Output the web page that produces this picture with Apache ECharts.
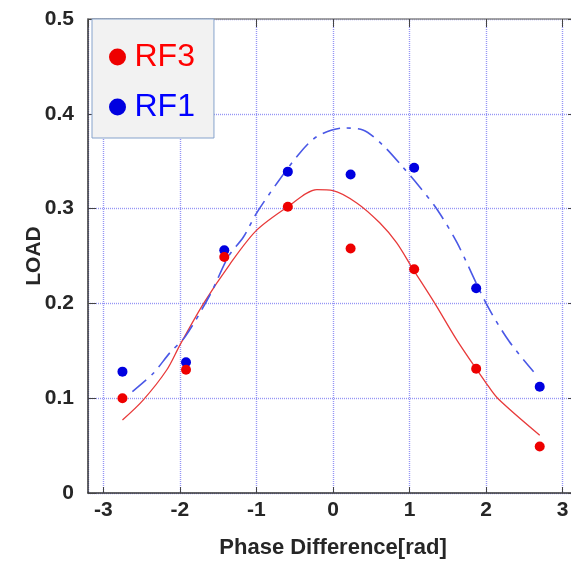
<!DOCTYPE html>
<html>
<head>
<meta charset="utf-8">
<script src="https://cdn.jsdelivr.net/npm/echarts@6/dist/echarts.min.js"></script>
<style>
  html, body { margin: 0; padding: 0; background: #fff; }
  #chart { width: 571px; height: 564px; }
</style>
</head>
<body>
<div id="chart"></div>
<script>
// ── Data ─────────────────────────────────────────────────────

// measured points
const phase   = [-2.75, -1.92, -1.42, -0.59, 0.23, 1.06, 1.87, 2.70];
const loadRF3 = [0.100, 0.130, 0.249, 0.302, 0.258, 0.236, 0.131, 0.049];
const loadRF1 = [0.128, 0.138, 0.256, 0.339, 0.336, 0.343, 0.216, 0.112];

// fitted curves (sampled from the drawn lines)
const fitRF3Phase = [-2.75, -2.48, -2.17, -2.0, -1.69, -1.35, -1.0, -0.59, -0.21, 0.0, 0.31, 0.61, 0.83, 1.03, 1.33, 1.62, 2.0, 2.15, 2.70];
const fitRF3Load  = [0.077, 0.098, 0.130, 0.156, 0.200, 0.241, 0.277, 0.302, 0.320, 0.319, 0.306, 0.285, 0.264, 0.238, 0.200, 0.161, 0.116, 0.100, 0.061];
const fitRF1Phase = [-2.62, -2.35, -2.13, -1.93, -1.6, -1.37, -1.17, -1.0, -0.73, -0.43, -0.21, 0.13, 0.39, 0.65, 0.91, 1.13, 1.36, 1.62, 2.0, 2.3, 2.62];
const fitRF1Load  = [0.107, 0.126, 0.148, 0.165, 0.210, 0.249, 0.270, 0.295, 0.327, 0.359, 0.376, 0.385, 0.383, 0.367, 0.344, 0.323, 0.299, 0.264, 0.200, 0.160, 0.128];

const FONT = '"Liberation Sans", Arial, sans-serif';
const GRID_COLOR = '#9595f5';

const pairs = (xs, ys) => xs.map((x, i) => [x, ys[i]]);

// ── Chart ────────────────────────────────────────────────────

const chart = echarts.init(document.getElementById('chart'), null, { renderer: 'canvas' });

const labelStyle = { fontFamily: FONT, fontSize: 21, fontWeight: 'bold', color: '#262626' };
const gridLine   = { show: true, lineStyle: { type: [1, 1], color: GRID_COLOR, width: 1.4 } };

chart.setOption({
  backgroundColor: '#fff',
  animation: false,
  grid: { left: 88, top: 19, width: 490, height: 474, outerBoundsMode: 'none' },

  legend: {
    data: [
      { name: 'RF3', textStyle: { color: '#ff0000' } },
      { name: 'RF1', textStyle: { color: '#0000ff' } },
    ],
    orient: 'vertical',
    left: 92, top: 19,
    icon: 'circle',
    itemWidth: 24, itemHeight: 17, itemGap: 16,
    padding: [21, 19, 14, 17],
    backgroundColor: '#f2f2f2',
    borderColor: '#86a3cc', borderWidth: 1,
    textStyle: { fontFamily: FONT, fontSize: 32, lineHeight: 34 },
  },

  xAxis: [
    {
      type: 'value', position: 'bottom',
      min: -3.2, max: 3.2, minInterval: 1, maxInterval: 1,
      name: 'Phase Difference[rad]', nameLocation: 'middle', nameGap: 44,
      nameMoveOverlap: false,
      nameTextStyle: { ...labelStyle, fontSize: 22 },
      axisLine: { show: true, onZero: false, lineStyle: { color: '#333', width: 1.5 } },
      axisTick: { show: true, inside: true, length: 6, lineStyle: { color: '#444' } },
      axisLabel: { ...labelStyle, margin: 7, showMinLabel: false, showMaxLabel: false },
      splitLine: gridLine,
    },
    {
      type: 'value', position: 'top',
      min: -3.2, max: 3.2, minInterval: 1, maxInterval: 1,
      axisLine: { show: true, onZero: false, lineStyle: { color: '#888', width: 1.5 } },
      axisTick: { show: true, inside: true, length: 8, lineStyle: { color: '#444' } },
      axisLabel: { show: false },
      splitLine: { show: false },
    },
  ],

  yAxis: [
    {
      type: 'value', position: 'left',
      min: 0, max: 0.5, interval: 0.1,
      name: 'LOAD', nameLocation: 'middle', nameGap: 43, nameRotate: 90,
      nameMoveOverlap: false,
      nameTextStyle: { ...labelStyle, fontSize: 21 },
      axisLine: { show: true, onZero: false, lineStyle: { color: '#333', width: 1.5 } },
      axisTick: { show: true, inside: true, length: 8, lineStyle: { color: '#444' } },
      axisLabel: { ...labelStyle, margin: 14, formatter: v => (v === 0 ? '0' : v.toFixed(1)) },
      splitLine: gridLine,
    },
    {
      type: 'value', position: 'right',
      min: 0, max: 0.5, interval: 0.1,
      axisLine: { show: true, onZero: false, lineStyle: { color: '#888', width: 1.5 } },
      axisTick: { show: true, inside: true, length: 10, lineStyle: { color: '#444' } },
      axisLabel: { show: false },
      splitLine: { show: false },
    },
  ],

  series: [
    {
      name: 'RF3 fit', type: 'line', smooth: 0.3, showSymbol: false, silent: true,
      data: pairs(fitRF3Phase, fitRF3Load),
      lineStyle: { color: '#e83a3a', width: 1.3 },
      z: 2,
    },
    {
      name: 'RF1 fit', type: 'line', smooth: 0.3, showSymbol: false, silent: true,
      data: pairs(fitRF1Phase, fitRF1Load),
      lineStyle: { color: '#4a58e6', width: 1.6, type: [18, 7, 4, 7] },
      z: 2,
    },
    {
      name: 'RF1', type: 'scatter', symbolSize: 10,
      data: pairs(phase, loadRF1),
      itemStyle: { color: '#0000e0', opacity: 1 },
      z: 3,
    },
    {
      name: 'RF3', type: 'scatter', symbolSize: 10,
      data: pairs(phase, loadRF3),
      itemStyle: { color: '#ee0000', opacity: 1 },
      z: 4,
    },
  ],
});
</script>
</body>
</html>
